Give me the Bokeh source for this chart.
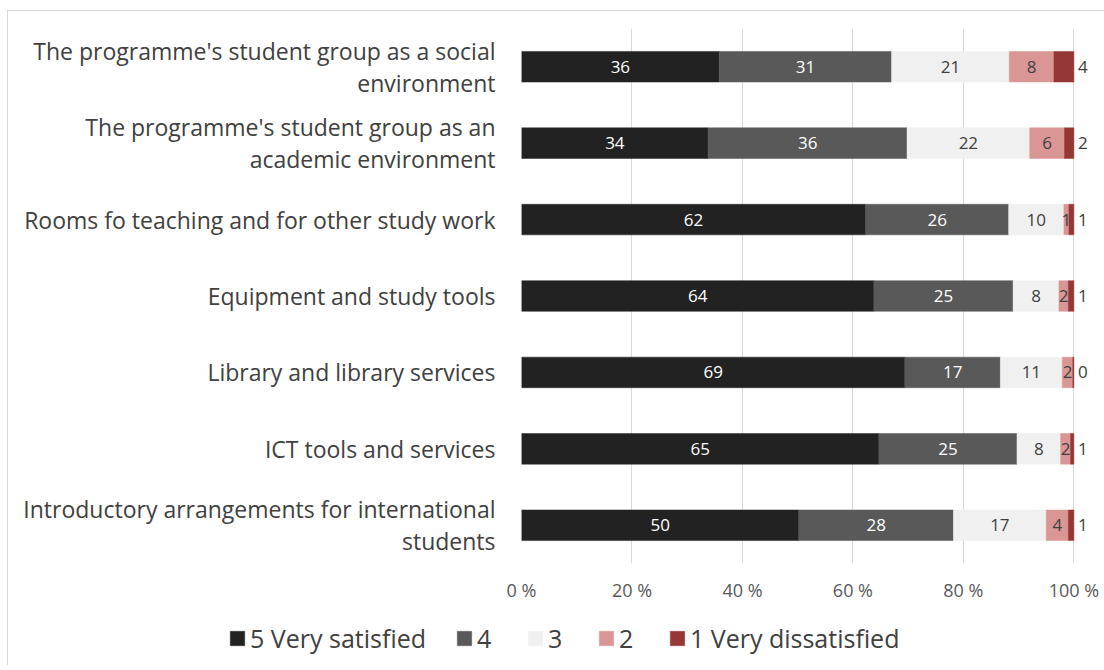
from bokeh.plotting import figure
from bokeh.layouts import column
from bokeh.models import ColumnDataSource, LabelSet, FactorRange, FixedTicker, Legend, LegendItem
from bokeh.core.properties import value
from bokeh.embed import file_html
from bokeh.resources import INLINE

categories = [
    "The programme's student group as a social\nenvironment",
    "The programme's student group as an\nacademic environment",
    "Rooms fo teaching and for other study work",
    "Equipment and study tools",
    "Library and library services",
    "ICT tools and services",
    "Introductory arrangements for international\nstudents",
]
series_names = ["5 Very satisfied", "4", "3", "2", "1 Very dissatisfied"]
s5 = [35.8, 33.8, 62.3, 63.8, 69.4, 64.7, 50.2]
s4 = [31.2, 36.0, 25.9, 25.2, 17.3, 25.0, 28.0]
s3 = [21.3, 22.2, 10.0, 8.3, 11.2, 7.9, 16.8]
s2 = [8.1, 6.3, 0.9, 1.7, 1.9, 1.8, 4.0]
s1 = [3.6, 1.7, 0.9, 1.0, 0.2, 0.6, 1.0]
colors = ["#222222", "#595959", "#f0f0f0", "#d99694", "#953735"]
label_colors = ["#ffffff", "#ffffff", "#404040", "#404040", "#404040"]
ticks = [0, 20, 40, 60, 80, 100]
tick_labels = ["0 %", "20 %", "40 %", "60 %", "80 %", "100 %"]

FONT = "Open Sans"
series = [s5, s4, s3, s2, s1]

yr = FactorRange(*list(reversed(categories)))
p = figure(
    y_range=yr,
    x_range=(0, 105),
    frame_width=580, frame_height=535,
    min_border_left=513, min_border_right=3, min_border_top=17, min_border_bottom=42,
    output_backend="svg", toolbar_location=None,
)
p.outline_line_color = None
p.background_fill_color = "white"
p.border_fill_color = "white"

# legend strip below the chart
lf = figure(width=1096, height=60, x_range=p.x_range, y_range=yr,
            min_border=0, min_border_left=0, min_border_right=0,
            min_border_top=0, min_border_bottom=0,
            output_backend="svg", toolbar_location=None)
lf.frame_align = False
lf.axis.visible = False
lf.grid.visible = False
lf.outline_line_color = None
lf.border_fill_color = "white"
lf.background_fill_color = "white"

proxies = []
left = [0.0] * len(categories)
for i, (vals, col) in enumerate(zip(series, colors)):
    right = [l + v for l, v in zip(left, vals)]
    src = ColumnDataSource(dict(
        cat=categories, left=left, right=right,
        mid=[(l + r) / 2 for l, r in zip(left, right)],
        txt=[str(int(round(v))) for v in vals],
    ))
    p.hbar(y="cat", left="left", right="right", height=0.4, source=src,
           fill_color=col, line_color=col, line_width=0.5)
    proxies.append(lf.hbar(y="cat", left="left", right="right", height=0.4, source=src,
                           fill_color=col, line_color=col, line_width=0.5, visible=False))
    if i < 4:
        ls = LabelSet(x="mid", y="cat", text="txt", source=src, text_align="center",
                      text_baseline="middle", text_color=label_colors[i],
                      text_font=value(FONT), text_font_size="17px")
    else:
        ls = LabelSet(x="right", y="cat", text="txt", source=src, text_align="left",
                      text_baseline="middle", x_offset=4, text_color=label_colors[i],
                      text_font=value(FONT), text_font_size="17px")
    p.add_layout(ls)
    left = right

p.xaxis.ticker = FixedTicker(ticks=ticks)
p.xaxis.major_label_overrides = {t: l for t, l in zip(ticks, tick_labels)}
p.xaxis.axis_line_color = None
p.xaxis.major_tick_line_color = None
p.xaxis.major_tick_out = 0
p.xaxis.major_tick_in = 0
p.xaxis.minor_tick_line_color = None
p.xaxis.major_label_standoff = 14
p.xaxis.major_label_text_font = FONT
p.xaxis.major_label_text_font_size = "18px"
p.xaxis.major_label_text_color = "#595959"

p.yaxis.axis_line_color = None
p.yaxis.major_tick_line_color = None
p.yaxis.major_tick_out = 0
p.yaxis.major_tick_in = 0
p.yaxis.major_label_standoff = 26
p.yaxis.major_label_text_font = FONT
p.yaxis.major_label_text_font_size = "23px"
p.yaxis.major_label_text_line_height = 1.0
p.yaxis.major_label_text_color = "#404040"

p.xgrid.grid_line_color = "#d9d9d9"
p.ygrid.grid_line_color = None

legend = Legend(
    items=[LegendItem(label=n, renderers=[r]) for n, r in zip(series_names, proxies)],
    orientation="horizontal", location=(220, 10),
    glyph_width=18, glyph_height=18, label_standoff=4, spacing=29, padding=0, margin=0,
    label_text_font=FONT, label_text_font_size="25px", label_text_color="#404040",
    border_line_color=None, background_fill_alpha=0,
    inactive_fill_alpha=0, click_policy="none",
)
lf.add_layout(legend, "center")

layout = column(p, lf, spacing=0,
                styles={"border-top": "1px solid #d9d9d9", "border-left": "1px solid #d9d9d9",
                        "margin-left": "7px", "margin-top": "10px"})

open("out.html", "w").write(file_html(layout, INLINE))
